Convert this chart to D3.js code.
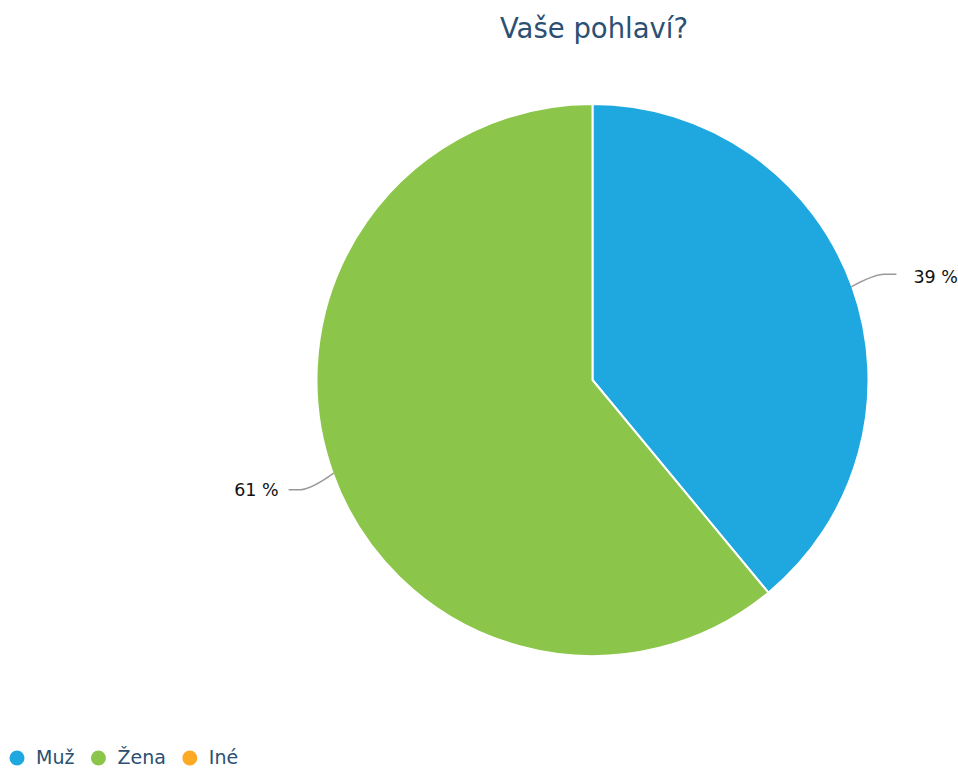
<!DOCTYPE html>
<html>
<head>
<meta charset="utf-8">
<script src="https://cdn.jsdelivr.net/npm/d3@7"></script>
<style>
  html, body { margin: 0; padding: 0; background: #fff; }
  svg { display: block; font-family: "DejaVu Sans", Verdana, sans-serif; }
</style>
</head>
<body>
<svg id="chart" width="958" height="769"></svg>
<script>
// Survey answers: "Vaše pohlaví?"
const categories = ["Muž", "Žena", "Iné"];
const percentages = [39, 61, 0];
const colors = ["#1fa8e0", "#8bc549", "#fcaa24"];
const titleText = "Vaše pohlaví?";

const width = 958, height = 769;
const cx = 592.5, cy = 380, radius = 276;

const svg = d3.select("#chart");

svg.append("text")
  .attr("x", 594)
  .attr("y", 38)
  .attr("text-anchor", "middle")
  .attr("fill", "#2b5072")
  .style("font-size", "27.5px")
  .text(titleText);

const data = categories.map((c, i) => ({ name: c, value: percentages[i], color: colors[i] }));

const pie = d3.pie().value(d => d.value).sort(null);
const arcs = pie(data);
const arc = d3.arc().innerRadius(0).outerRadius(radius);

const g = svg.append("g").attr("transform", `translate(${cx},${cy})`);

g.selectAll("path.slice")
  .data(arcs.filter(a => a.data.value > 0))
  .join("path")
  .attr("class", "slice")
  .attr("d", arc)
  .attr("fill", d => d.data.color)
  .attr("stroke", "#fff")
  .attr("stroke-width", 2)
  .attr("stroke-linejoin", "round");

// Data labels with bent connectors
const labelDist = 30;
arcs.filter(a => a.data.value > 0).forEach(a => {
  const mid = (a.startAngle + a.endAngle) / 2;
  const sx = Math.sin(mid), sy = -Math.cos(mid);
  const right = sx >= 0;
  const dir = right ? 1 : -1;
  const p0 = [(radius - 1) * sx, (radius - 1) * sy];
  const ly = (radius + labelDist) * sy + (right ? -2 : 6);
  const p1 = [(radius + labelDist) * sx + dir * 4, ly];
  const p2 = [p1[0] + dir * 12, ly];
  const path = d3.path();
  path.moveTo(p0[0], p0[1]);
  path.quadraticCurveTo(p1[0] - dir * 10, p1[1], p1[0], p1[1]);
  path.lineTo(p2[0], p2[1]);
  g.append("path")
    .attr("d", path.toString())
    .attr("fill", "none")
    .attr("stroke", "#999")
    .attr("stroke-width", 1.5);
  g.append("text")
    .attr("x", p2[0] + dir * (right ? 17 : 10))
    .attr("y", ly + (right ? 3 : 0))
    .attr("dy", "0.35em")
    .attr("text-anchor", right ? "start" : "end")
    .attr("fill", "#111")
    .style("font-size", "17.5px")
    .text(a.data.value + " %");
});

// Legend along the bottom edge
const legend = svg.append("g").attr("transform", "translate(0,758)");
let lx = 17;
data.forEach(d => {
  const item = legend.append("g");
  item.append("circle")
    .attr("cx", lx)
    .attr("cy", 0)
    .attr("r", 7.5)
    .attr("fill", d.color);
  const t = item.append("text")
    .attr("x", lx + 19)
    .attr("y", 6)
    .attr("fill", "#2b5072")
    .style("font-size", "19px")
    .text(d.name);
  const w = t.node().getComputedTextLength();
  lx += 19 + w + 24;
});
</script>
</body>
</html>
